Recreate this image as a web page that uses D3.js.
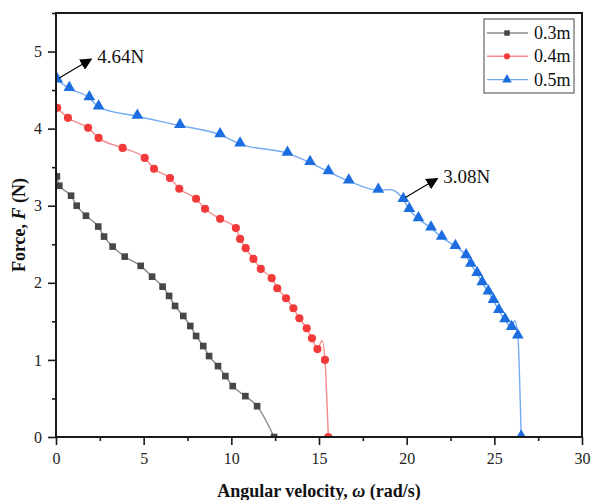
<!DOCTYPE html>
<html><head><meta charset="utf-8">
<script src="https://cdn.jsdelivr.net/npm/d3@7"></script>
<style>body{margin:0;background:#fff}svg{display:block}</style>
</head><body>
<svg id="c" width="593" height="500"></svg>
<script>
// ---- data ----
const seriesNames = ["0.3m", "0.4m", "0.5m"];
const x03 = [0.05,0.19,0.86,1.18,1.71,2.41,2.74,3.23,3.92,4.83,5.48,6.08,6.45,6.79,7.26,7.66,7.99,8.40,8.73,9.24,9.66,10.08,10.80,11.47,12.44];
const y03 = [3.38,3.26,3.13,3.00,2.87,2.73,2.60,2.47,2.34,2.22,2.08,1.95,1.83,1.70,1.57,1.44,1.31,1.18,1.05,0.92,0.79,0.66,0.53,0.40,0.00];
const x04 = [0.07,0.68,1.83,2.43,3.80,5.06,5.59,6.50,7.03,7.99,8.50,9.36,10.26,10.50,10.82,11.26,11.68,12.30,12.62,13.12,13.54,13.88,14.30,14.60,14.91,15.17,15.34,15.53];
const y04 = [4.27,4.14,4.01,3.88,3.75,3.62,3.48,3.36,3.22,3.09,2.96,2.83,2.71,2.57,2.45,2.31,2.18,2.06,1.93,1.80,1.67,1.54,1.41,1.28,1.14,1.25,1.00,0.00];
const noMark04 = [25];
const x05 = [0.07,0.76,1.90,2.43,4.64,7.07,9.36,10.50,13.20,14.49,15.54,16.70,18.38,19.05,19.81,20.15,20.67,21.39,22.00,22.78,23.39,23.66,24.02,24.31,24.66,24.95,25.26,25.61,25.99,26.16,26.34,26.53];
const y05 = [4.63,4.52,4.40,4.28,4.16,4.04,3.92,3.80,3.68,3.56,3.44,3.32,3.20,3.21,3.08,2.95,2.83,2.71,2.59,2.47,2.35,2.24,2.12,2.00,1.88,1.77,1.64,1.52,1.42,1.51,1.31,0.00];
const noMark05 = [13, 29];
const xTicks = [0,5,10,15,20,25,30];
const yTicks = [0,1,2,3,4,5];
const annotations = [{x:0.07, y:4.63, label:"4.64N"}, {x:19.81, y:3.08, label:"3.08N"}];

// ---- layout ----
const svg = d3.select("#c");
const L = 56, R = 582, T = 13, B = 437;
const xS = d3.scaleLinear().domain([0,30]).range([L,R]);
const yS = d3.scaleLinear().domain([0,5.5]).range([B,T]);
const serif = "'Liberation Serif','Times New Roman',serif";

const defs = svg.append("defs");
defs.append("clipPath").attr("id","clip").append("rect")
  .attr("x",L+1).attr("y",T).attr("width",R-L-1).attr("height",B-T-1);
defs.append("marker").attr("id","arr").attr("viewBox","0 0 10 10").attr("refX",9).attr("refY",5)
  .attr("markerWidth",12).attr("markerHeight",12).attr("markerUnits","userSpaceOnUse").attr("orient","auto")
  .append("path").attr("d","M0,0 L10,5 L0,10 Z").attr("fill","#000");

// series
const series = [
  {xs:x03, ys:y03, skip:[], mark:"square", c:"#474747", lc:"#8a8a8a"},
  {xs:x04, ys:y04, skip:noMark04, mark:"circle", c:"#f23a3a", lc:"#f58a8a"},
  {xs:x05, ys:y05, skip:noMark05, mark:"triangle", c:"#1c6ee0", lc:"#75abf2"}
];
const symType = {square:d3.symbolSquare, circle:d3.symbolCircle, triangle:d3.symbolTriangle};
const symSize = {square:44, circle:52, triangle:60};
const line = d3.line().x(d=>xS(d[0])).y(d=>yS(d[1])).curve(d3.curveMonotoneX);

const g = svg.append("g").attr("clip-path","url(#clip)");
series.forEach(s=>{
  const pts = s.xs.map((x,i)=>[x,s.ys[i],i]);
  g.append("path").attr("d",line(pts)).attr("fill","none").attr("stroke",s.lc).attr("stroke-width",1.4);
});
series.forEach(s=>{
  const pts = s.xs.map((x,i)=>[x,s.ys[i],i]).filter(d=>!s.skip.includes(d[2]));
  g.selectAll(null).data(pts).enter().append("path")
    .attr("d",d3.symbol().type(symType[s.mark]).size(symSize[s.mark]))
    .attr("transform",d=>`translate(${xS(d[0])},${yS(d[1])+(s.mark==="triangle"?-1:0)})`)
    .attr("fill",s.c);
});

// frame
svg.append("rect").attr("x",L).attr("y",T).attr("width",R-L).attr("height",B-T)
  .attr("fill","none").attr("stroke","#1a1a1a").attr("stroke-width",2);

// axes
const xAx = svg.append("g").attr("transform",`translate(0,${B})`)
  .call(d3.axisBottom(xS).tickValues(xTicks).tickSize(8).tickPadding(8).tickFormat(d3.format("d")));
const xMin = svg.append("g").attr("transform",`translate(0,${B})`)
  .call(d3.axisBottom(xS).tickValues(xTicks.slice(0,-1).map(v=>v+2.5)).tickSize(4).tickFormat(""));
const yAx = svg.append("g").attr("transform",`translate(${L},0)`)
  .call(d3.axisLeft(yS).tickValues(yTicks).tickSize(8).tickPadding(6).tickFormat(d3.format("d")));
const yMin = svg.append("g").attr("transform",`translate(${L},0)`)
  .call(d3.axisLeft(yS).tickValues(yTicks.map(v=>v+0.5)).tickSize(4).tickFormat(""));
[xAx,xMin,yAx,yMin].forEach(a=>{
  a.select(".domain").remove();
  a.selectAll("line").attr("stroke","#1a1a1a").attr("stroke-width",1.6);
  a.selectAll("text").attr("font-family",serif).attr("font-size",16).attr("fill","#222");
});

// axis titles
const xt = svg.append("text").attr("x",(L+R)/2).attr("y",497).attr("text-anchor","middle")
  .attr("font-family",serif).attr("font-size",18).attr("font-weight","bold").attr("fill","#111");
xt.append("tspan").text("Angular velocity, ");
xt.append("tspan").attr("font-style","italic").text("ω");
xt.append("tspan").text(" (rad/s)");
const yt = svg.append("text").attr("transform",`translate(25,${(T+B)/2}) rotate(-90)`).attr("text-anchor","middle")
  .attr("font-family",serif).attr("font-size",18).attr("font-weight","bold").attr("fill","#111");
yt.append("tspan").text("Force, ");
yt.append("tspan").attr("font-style","italic").text("F");
yt.append("tspan").text(" (N)");

// annotations
annotations.forEach(a=>{
  const px = xS(a.x), py = yS(a.y);
  svg.append("line").attr("x1",px+2).attr("y1",py-2).attr("x2",px+34).attr("y2",py-21)
    .attr("stroke","#000").attr("stroke-width",1.1).attr("marker-end","url(#arr)");
  svg.append("text").attr("x",px+40).attr("y",py-17).attr("font-family",serif).attr("font-size",19)
    .attr("fill","#111").text(a.label);
});

// legend
const lg = svg.append("g");
lg.append("rect").attr("x",484).attr("y",19).attr("width",90).attr("height",74)
  .attr("fill","#fff").attr("stroke","#666").attr("stroke-width",1.2);
series.forEach((s,i)=>{
  const cy = 33 + i*23.3;
  lg.append("line").attr("x1",487).attr("x2",528).attr("y1",cy).attr("y2",cy).attr("stroke",s.lc).attr("stroke-width",1.4);
  lg.append("path").attr("d",d3.symbol().type(symType[s.mark]).size(s.mark==="triangle"?40:30))
    .attr("transform",`translate(507,${cy})`).attr("fill",s.c);
  lg.append("text").attr("x",534).attr("y",cy+6).attr("font-family",serif).attr("font-size",18)
    .attr("fill","#111").text(seriesNames[i]);
});
</script>
</body></html>
